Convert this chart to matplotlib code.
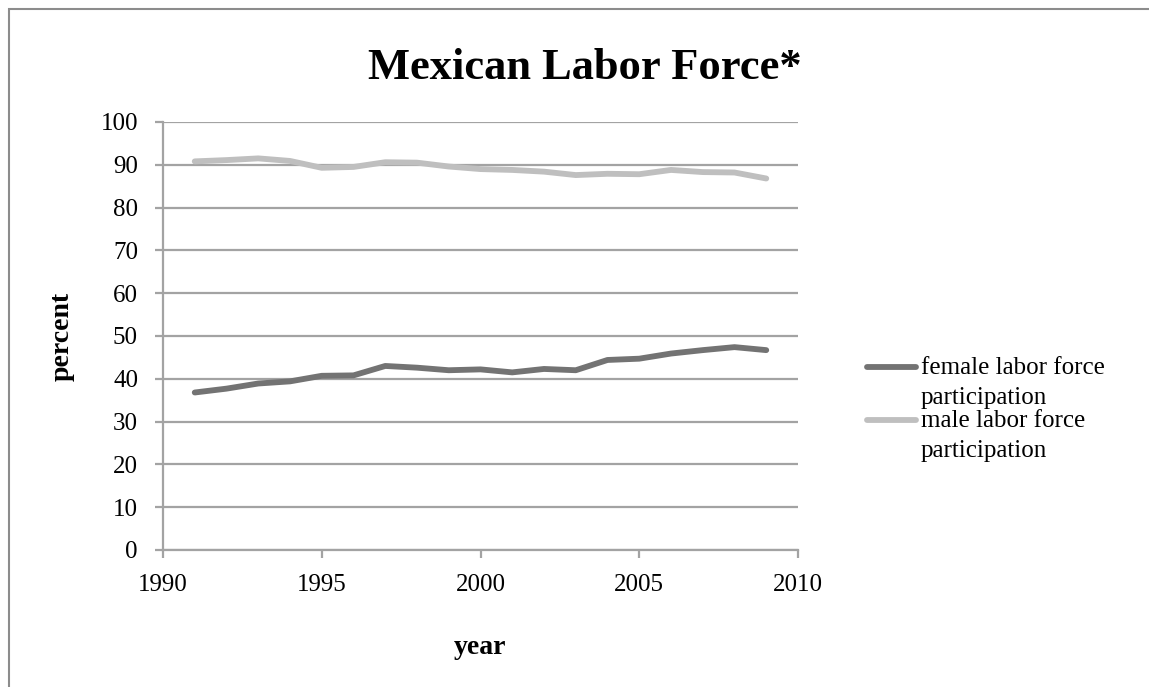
import matplotlib
matplotlib.use("Agg")
import matplotlib.pyplot as plt
from matplotlib.patches import Rectangle
from matplotlib.lines import Line2D

plt.rcParams["font.family"] = ["Liberation Serif", "DejaVu Serif"]

years = list(range(1991, 2010))
female = [36.8, 37.7, 38.9, 39.4, 40.7, 40.8, 43.0, 42.6, 42.0, 42.2,
          41.5, 42.3, 42.0, 44.4, 44.7, 45.9, 46.7, 47.4, 46.7]
male = [90.8, 91.1, 91.5, 90.9, 89.3, 89.5, 90.6, 90.5, 89.6, 89.0,
        88.8, 88.4, 87.6, 87.9, 87.8, 88.8, 88.3, 88.2, 86.8]
series_names = ["female labor force\nparticipation",
                "male labor force\nparticipation"]
series_colors = ["#737373", "#bfbfbf"]

grid_col = "#a3a3a3"
W, H = 1149, 687

fig = plt.figure(figsize=(W / 100, H / 100), dpi=100)

# chart frame (runs off the right and bottom edges)
fig.patches.append(Rectangle((9 / W, -0.05), 1.2, 1 - 9 / H + 0.05,
                             transform=fig.transFigure, fill=False,
                             edgecolor="#8c8c8c", linewidth=1.5))

ax = fig.add_axes([163 / W, 1 - 550 / H, 635 / W, 428 / H])

for vals, col in zip([female, male], series_colors):
    ax.plot(years, vals, color=col, linewidth=4.2,
            solid_capstyle="round", solid_joinstyle="round")

ax.set_xlim(1990, 2010)
ax.set_ylim(0, 100)
ax.set_xticks(range(1990, 2011, 5))
ax.set_yticks(range(0, 101, 10))
ax.yaxis.grid(True, color=grid_col, linewidth=1.6)
ax.set_axisbelow(True)

for side in ["top", "right"]:
    ax.spines[side].set_visible(False)
for side in ["left", "bottom"]:
    ax.spines[side].set_color(grid_col)
    ax.spines[side].set_linewidth(1.6)
ax.tick_params(axis="both", colors=grid_col, width=1.6, length=6,
               labelcolor="black", labelsize=18)
ax.tick_params(axis="x", pad=11)
ax.tick_params(axis="y", pad=12)

fig.text(62 / W, 1 - 336 / H, "percent", fontsize=20, fontweight="bold",
         rotation=90, ha="center", va="center")
fig.text(480 / W, 1 - 647 / H, "year", fontsize=20, fontweight="bold",
         ha="center", va="center")

fig.text(585 / W, 1 - 68 / H, "Mexican Labor Force*", fontsize=32,
         fontweight="bold", ha="center", va="center")

# legend, handle level with the first line of each label
for i, (name, col) in enumerate(zip(series_names, series_colors)):
    y = 1 - (367 + 53 * i) / H
    fig.add_artist(Line2D([867 / W, 916 / W], [y, y], color=col,
                          linewidth=4.2, solid_capstyle="round",
                          transform=fig.transFigure))
    fig.text(921 / W, y + 10 / H, name, fontsize=18, ha="left", va="top",
             linespacing=1.5)

fig.savefig("out.png", dpi=100)
